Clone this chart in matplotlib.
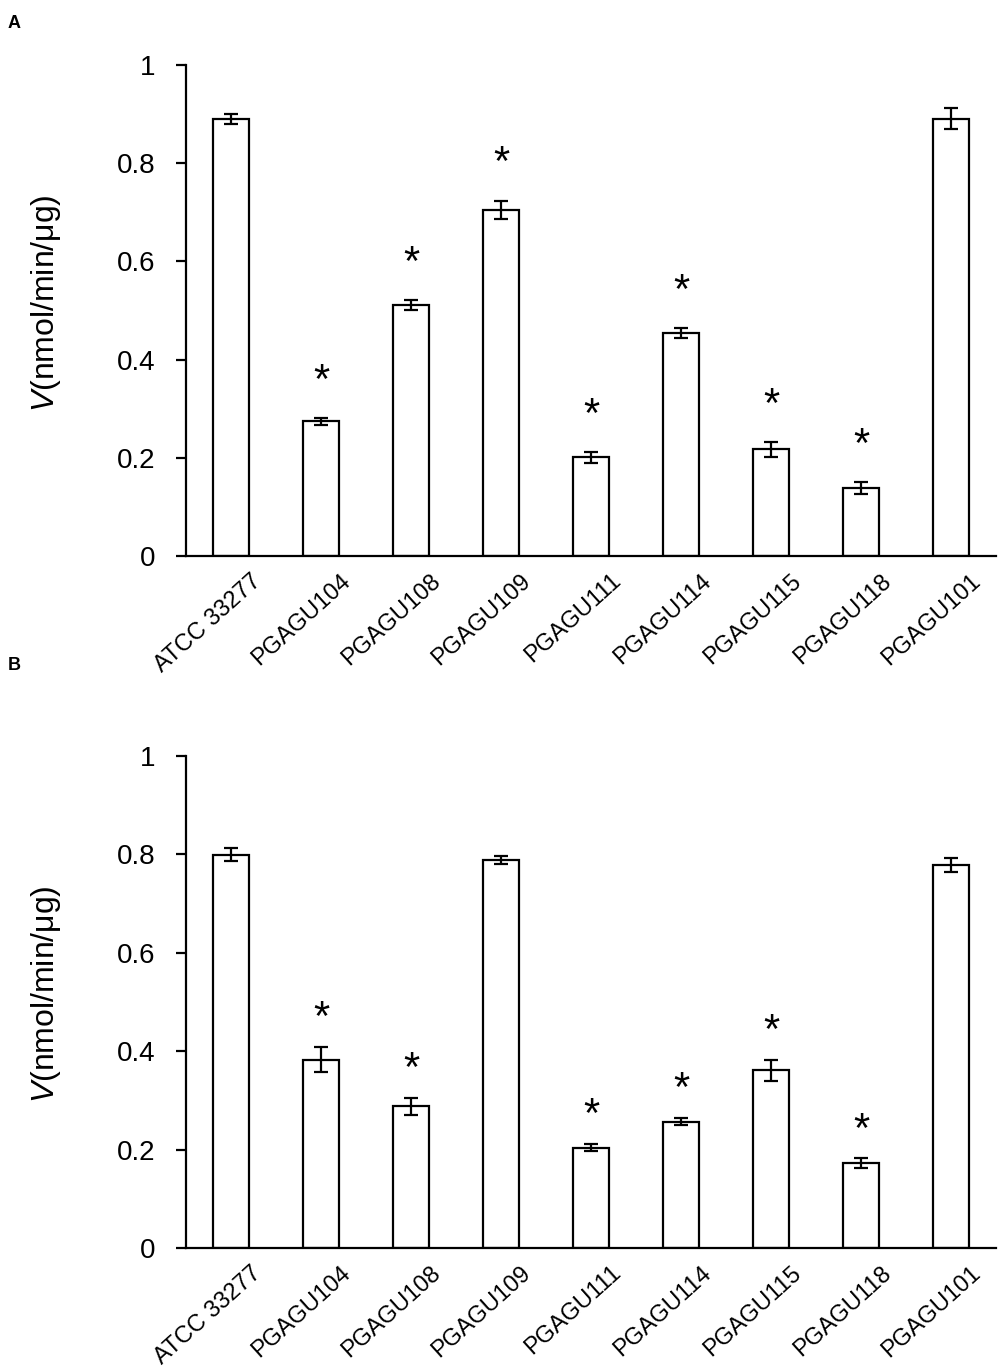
import numpy as np
import matplotlib
matplotlib.use('Agg')
import matplotlib.pyplot as plt
from matplotlib.transforms import ScaledTranslation

plt.rcParams['font.family'] = ['Liberation Sans', 'DejaVu Sans']
plt.rcParams['mathtext.fontset'] = 'custom'
plt.rcParams['mathtext.it'] = 'Liberation Sans:italic'
plt.rcParams['mathtext.rm'] = 'Liberation Sans'

# data
strains = ['ATCC 33277', 'PGAGU104', 'PGAGU108', 'PGAGU109', 'PGAGU111',
           'PGAGU114', 'PGAGU115', 'PGAGU118', 'PGAGU101']

a_vals = [0.890, 0.274, 0.511, 0.705, 0.201, 0.454, 0.217, 0.139, 0.891]
a_err = [0.011, 0.007, 0.011, 0.019, 0.011, 0.010, 0.015, 0.012, 0.021]
a_sig = [False, True, True, True, True, True, True, True, False]

b_vals = [0.799, 0.383, 0.288, 0.788, 0.204, 0.257, 0.361, 0.172, 0.779]
b_err = [0.013, 0.026, 0.017, 0.008, 0.007, 0.007, 0.021, 0.010, 0.014]
b_sig = [False, True, True, False, True, True, True, True, False]

yticks = [0, 0.2, 0.4, 0.6, 0.8, 1]
ytick_labels = ['0', '0.2', '0.4', '0.6', '0.8', '1']

fig = plt.figure(figsize=(10.0, 13.67), dpi=100)

W, H = 1000, 1367


def panel(rect_px, vals, err, sig, star_off, letter, letter_y):
    left, top, right, bottom = rect_px
    ax = fig.add_axes([left / W, 1 - bottom / H, (right - left) / W, (bottom - top) / H])
    x = np.arange(len(strains))
    ax.bar(x, vals, width=0.4, color='white', edgecolor='black', linewidth=1.6,
           yerr=err, error_kw=dict(ecolor='black', elinewidth=1.6, capsize=5, capthick=1.6))
    for xi, v, e, s in zip(x, vals, err, sig):
        if s:
            ax.annotate('*', xy=(xi, v + e), xytext=(0, star_off), textcoords='offset points',
                        ha='center', va='center', fontsize=30)
    ax.set_xlim(-0.5, len(strains) - 0.5)
    ax.set_ylim(0, 1)
    ax.set_yticks(yticks)
    ax.set_yticklabels(ytick_labels, fontsize=20)
    ax.set_xticks(x)
    ax.set_xticklabels(strains, fontsize=17, rotation=42, ha='right', va='top',
                       rotation_mode='anchor')
    ax.tick_params(axis='x', length=0, pad=10)
    ax.tick_params(axis='y', length=7, width=1.6, direction='out', pad=15)
    offset = ScaledTranslation(14 / 72, 0, fig.dpi_scale_trans)
    for lab in ax.get_xticklabels():
        lab.set_transform(lab.get_transform() + offset)
    for sp in ['top', 'right']:
        ax.spines[sp].set_visible(False)
    for sp in ['left', 'bottom']:
        ax.spines[sp].set_linewidth(1.6)
    ax.set_ylabel(r'$V$(nmol/min/μg)', fontsize=23)
    ax.yaxis.set_label_coords(-0.152, 0.515)
    fig.text(8 / W, 1 - letter_y / H, letter, fontsize=13, fontweight='bold', ha='left', va='center')
    return ax


panel((186, 65, 996, 556), a_vals, a_err, a_sig, 26, 'A', 24)
panel((186, 756, 996, 1248), b_vals, b_err, b_sig, 20, 'B', 666)

fig.savefig('out.png', dpi=100)
